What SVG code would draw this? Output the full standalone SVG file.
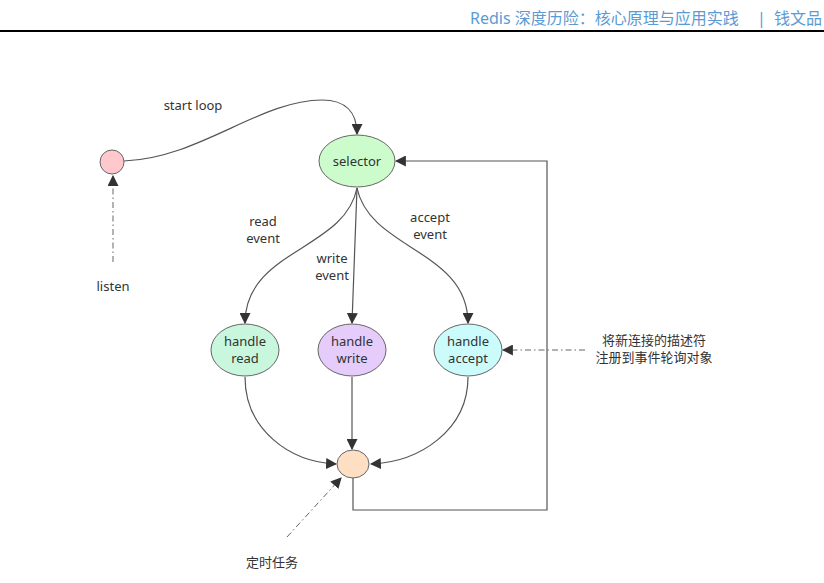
<svg xmlns="http://www.w3.org/2000/svg" width="824" height="583" viewBox="0 0 824 583">
<defs>
<style>
.t{font-family:"Noto Sans","Liberation Sans","Noto Sans CJK SC",sans-serif;font-size:13px;fill:#333;text-anchor:middle}
.h{font-family:"Noto Sans","Liberation Sans","Noto Sans CJK SC",sans-serif;font-size:16px;fill:#5b9bd5}
.n{stroke:#666;stroke-width:1}
.e{fill:none;stroke:#555;stroke-width:1.2;marker-end:url(#a)}
.d{fill:none;stroke:#666;stroke-width:1;stroke-dasharray:6 3 1.5 3;marker-end:url(#a)}
</style>
<marker id="a" viewBox="0 0 10 10" refX="9" refY="5" markerWidth="11" markerHeight="11" markerUnits="userSpaceOnUse" orient="auto">
<path d="M0,0 L10,5 L0,10 z" fill="#333"/>
</marker>
</defs>
<rect width="824" height="583" fill="#fff"/>
<g id="header">
<text class="h" x="470" y="24">Redis 深度历险：核心原理与应用实践</text>
<text class="h" x="757" y="24">|</text>
<text class="h" x="822" y="24" text-anchor="end">钱文品</text>
<line x1="0" y1="31" x2="824" y2="31" stroke="#000" stroke-width="2"/>
</g>
<g id="connectors">
<path class="e" d="M124,161 C200,158 260,100 322,100 C345,100 357,112 357,134"/>
<path class="d" d="M113,262 L113,176"/>
<path class="e" d="M357,188 C345,250 245,250 245,323"/>
<path class="e" d="M357,188 L352,323"/>
<path class="e" d="M357,188 C370,250 468,250 468,323"/>
<path class="e" d="M245,377 C245,430 290,462 336,464"/>
<path class="e" d="M352,377 L352,449"/>
<path class="e" d="M468,377 C468,430 420,462 371,464"/>
<path class="e" d="M353,478 L353,510 L547,510 L547,161 L396,161"/>
<path class="d" d="M585,350 L503,350"/>
<path class="d" d="M287,537 L341,478"/>
</g>
<g id="start"><circle class="n" cx="112" cy="162" r="12" fill="#ffc8cc"/></g>
<g id="selector"><ellipse class="n" cx="357" cy="161" rx="38" ry="26" fill="#ccfccc"/><text class="t" x="357" y="166">selector</text></g>
<g id="handle-read"><ellipse class="n" cx="245" cy="350" rx="34" ry="26" fill="#c8f7dd"/><text class="t" x="245" y="346">handle</text><text class="t" x="245" y="363">read</text></g>
<g id="handle-write"><ellipse class="n" cx="352" cy="350" rx="34" ry="26" fill="#e6ccfb"/><text class="t" x="352" y="346">handle</text><text class="t" x="352" y="363">write</text></g>
<g id="handle-accept"><ellipse class="n" cx="468" cy="350" rx="34" ry="26" fill="#ccfbfb"/><text class="t" x="468" y="346">handle</text><text class="t" x="468" y="363">accept</text></g>
<g id="join"><ellipse class="n" cx="353" cy="464" rx="16" ry="14" fill="#ffdfc4"/></g>
<g id="labels">
<text class="t" x="193" y="110">start loop</text>
<text class="t" x="113" y="291">listen</text>
<text class="t" x="263" y="226">read</text><text class="t" x="263" y="243">event</text>
<text class="t" x="332" y="263">write</text><text class="t" x="332" y="280">event</text>
<text class="t" x="430" y="222">accept</text><text class="t" x="430" y="239">event</text>
<text class="t" x="654" y="345">将新连接的描述符</text>
<text class="t" x="654" y="362">注册到事件轮询对象</text>
<text class="t" x="272" y="567">定时任务</text>
</g>
</svg>
